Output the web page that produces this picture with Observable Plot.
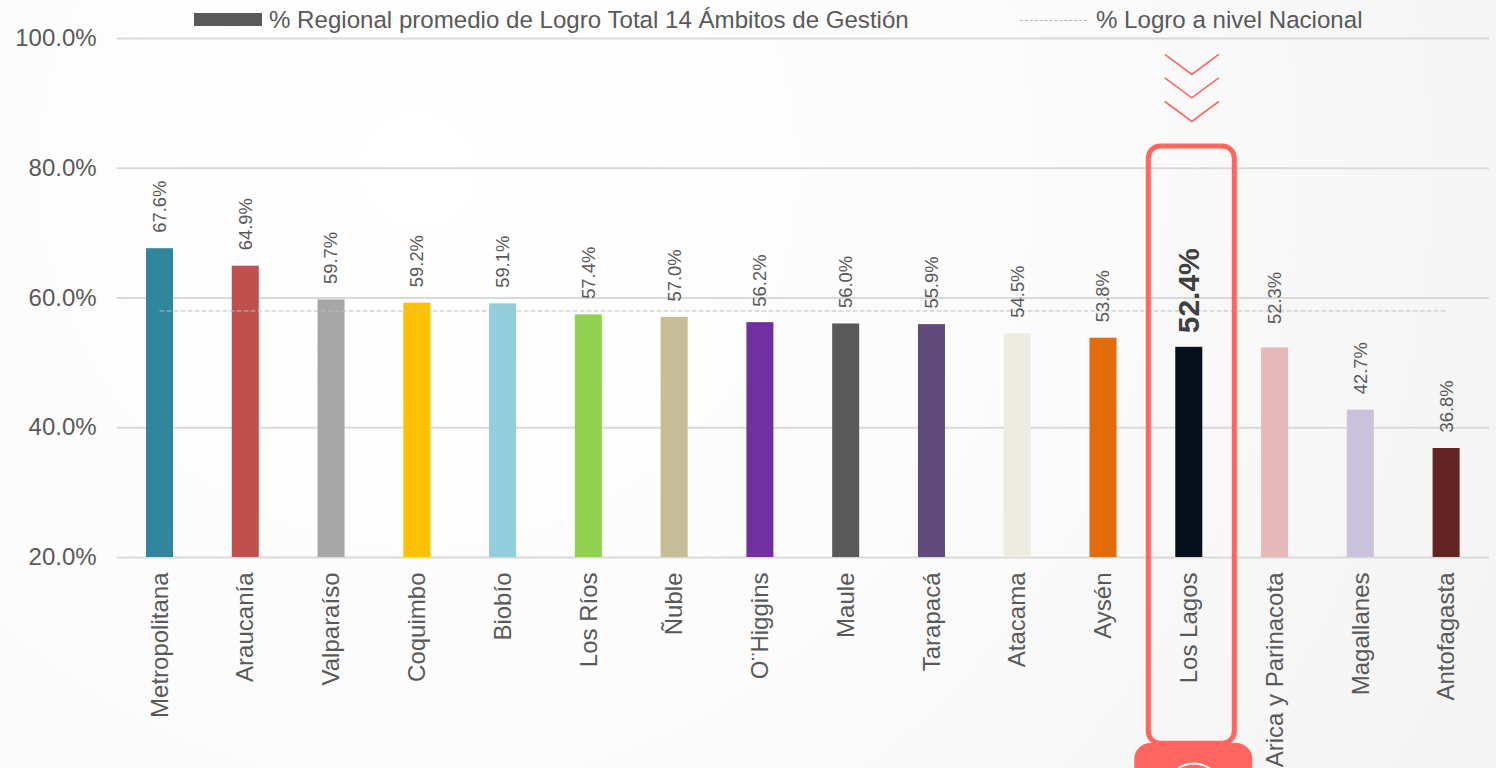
<!DOCTYPE html>
<html lang="es">
<head>
<meta charset="utf-8">
<script src="https://cdn.jsdelivr.net/npm/d3@7"></script>
<script src="https://cdn.jsdelivr.net/npm/@observablehq/plot@0.6"></script>
<style>
html,body{margin:0;padding:0;width:1496px;height:768px;overflow:hidden;
 background:radial-gradient(circle at 28% 22%,#ffffff 0%,#fcfcfc 45%,#f3f3f3 100%);
 font-family:"Liberation Sans",Arial,sans-serif;color:#595959}
#legend{position:relative;height:20px;font-size:24.1px;line-height:40px}
#legend span{position:absolute;top:0;white-space:nowrap;height:40px}
#legend i{position:absolute;display:block}
#chart svg{display:block;background:transparent;overflow:hidden}
</style>
</head>
<body>
<div id="legend">
 <i style="left:194px;top:13px;width:68px;height:13px;background:#595959"></i>
 <span style="left:269px">% Regional promedio de Logro Total 14 Ámbitos de Gestión</span>
 <i style="left:1020px;top:20px;width:67px;border-top:1px dashed #b4b4b4"></i>
 <span style="left:1096px">% Logro a nivel Nacional</span>
</div>
<div id="chart"></div>
<script>
const regiones = ["Metropolitana","Araucanía","Valparaíso","Coquimbo","Biobío","Los Ríos","Ñuble","O¨Higgins","Maule","Tarapacá","Atacama","Aysén","Los Lagos","Arica y Parinacota","Magallanes","Antofagasta"];
const logro = [67.6,64.9,59.7,59.2,59.1,57.4,57.0,56.2,56.0,55.9,54.5,53.8,52.4,52.3,42.7,36.8];
const colores = ["#31859c","#c0504d","#a6a6a6","#ffc000","#92cddc","#92d050","#c4bd97","#7030a0","#595959","#604a7b","#eeece1","#e36c09","#07111d","#e6b9b8","#ccc1da","#632523"];
const nacional = 58;
const ticksY = [20,40,60,80,100];
const destacada = "Los Lagos";
const elevada = "Arica y Parinacota";
const flechasY = [96,92.4,88.75];

const filas = regiones.map((r,i)=>({region:r,valor:logro[i],color:colores[i]}));
const fmt = d => d.toFixed(1)+"%";
const chevron = {draw(c){c.moveTo(-27,-10);c.lineTo(0,10);c.lineTo(27,-10);}};
const acento = "#ff6660";

const plot = Plot.plot({
  width:1496,height:748,
  marginTop:18,marginBottom:211,marginLeft:116.6,marginRight:7,
  style:{fontFamily:"'Liberation Sans',Arial,sans-serif",background:"transparent",color:"#595959"},
  x:{domain:regiones,paddingInner:0.685,paddingOuter:0.3425,align:0.5,round:false,label:null},
  y:{domain:[20,100],label:null},
  marks:[
    Plot.gridY(ticksY,{stroke:"#d9d9d9",strokeOpacity:1,strokeWidth:2}),
    Plot.axisY({ticks:ticksY,tickFormat:fmt,tickSize:0,tickPadding:20.5,fontSize:24,label:null,fill:"#595959"}),
    Plot.axisX({tickSize:0,tickPadding:15,tickRotate:-90,fontSize:24,label:null,fill:"#595959"}),
    Plot.barY(filas,{x:"region",y1:()=>20,y2:"valor",fill:"color"}),
    Plot.line(filas,{x:"region",y:()=>nacional,stroke:"#bdbdbd",strokeWidth:1,strokeDasharray:"4 3"}),
    Plot.text(filas.filter(d=>d.region!==destacada&&d.region!==elevada),{x:"region",y:"valor",text:d=>fmt(d.valor),rotate:-90,textAnchor:"start",dy:-16,fontSize:18.4,fill:"#595959"}),
    Plot.text(filas.filter(d=>d.region===elevada),{x:"region",y:"valor",text:d=>fmt(d.valor),rotate:-90,textAnchor:"start",dy:-24,fontSize:18.4,fill:"#595959"}),
    Plot.text(filas.filter(d=>d.region===destacada),{x:"region",y:"valor",text:d=>fmt(d.valor),rotate:-90,textAnchor:"start",dy:-14,fontSize:30,fontWeight:"bold",fill:"#404040"}),
    Plot.barY([destacada],{x:d=>d,y1:()=>-8.7,y2:()=>83.35,fill:"none",stroke:acento,strokeWidth:5,rx:12,insetLeft:-27,insetRight:-32}),
    Plot.barY([destacada],{x:d=>d,y1:()=>-22,y2:()=>-8.67,fill:acento,rx:16,insetLeft:-41,insetRight:-50}),
    Plot.dot([destacada],{x:d=>d,y:()=>-15.9,r:27,dx:4.5,fill:"none",stroke:"#fff",strokeWidth:2}),
    Plot.dot(flechasY,{x:()=>destacada,y:d=>d,symbol:chevron,dx:2.5,r:5,fill:"none",stroke:acento,strokeWidth:1.6})
  ]
});
document.getElementById("chart").append(plot);
</script>
</body>
</html>
